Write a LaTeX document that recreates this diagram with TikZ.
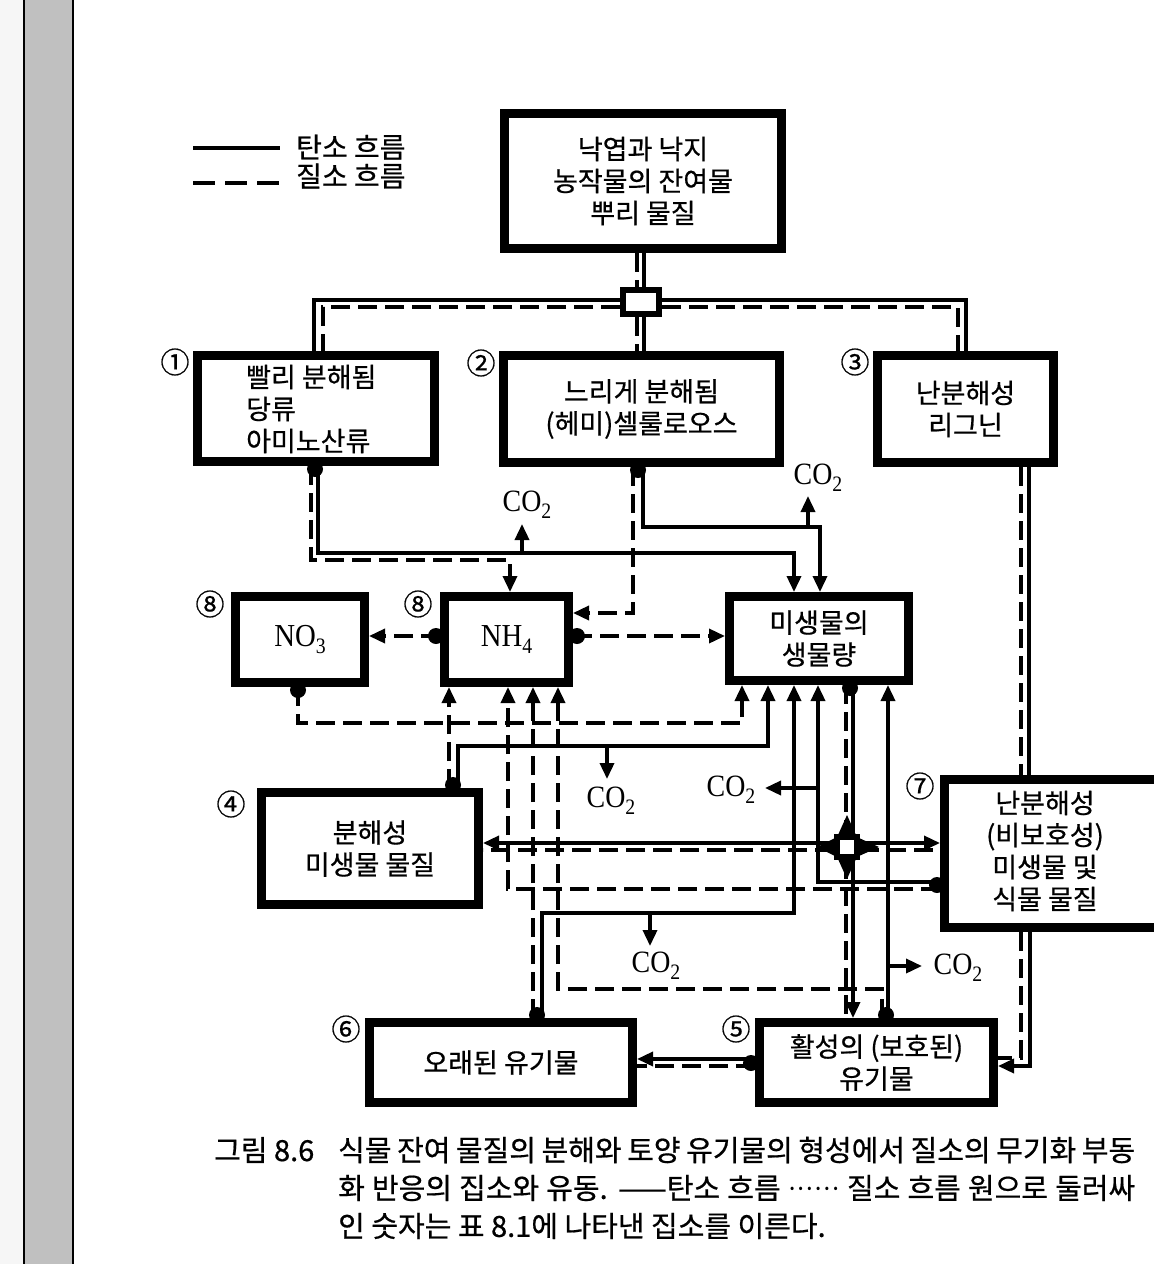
\documentclass[tikz,border=0pt]{standalone}
\usepackage{fontspec}
\setmainfont{Liberation Serif}
\newfontfamily\kr[FakeBold=0.6]{Noto Sans CJK KR}
\newfontfamily\lat[FakeStretch=0.9]{Liberation Serif}
\usetikzlibrary{arrows.meta,calc}
\newcommand{\subn}[1]{\raisebox{-0.22em}{\fontsize{22}{22}\selectfont #1}}
\newcommand{\cotwo}{CO\subn{2}}
\definecolor{stripG}{HTML}{C0C0C0}
\definecolor{stripL}{HTML}{F6F6F6}
\begin{document}
\begin{tikzpicture}[x=1pt,y=-1pt,
 bx/.style={draw, line width=9pt, inner sep=0pt, fill=white, align=center, font=\kr\fontsize{27}{32}\selectfont},
 cline/.style={line width=3.5pt},
 nline/.style={line width=3.5pt, dash pattern=on 19pt off 8pt},
 arrowhd/.style={-{Triangle[length=16pt,width=14pt]}},
 jbox/.style={draw, line width=6pt, fill=white, inner sep=0pt},
 ktxt/.style={font=\kr\fontsize{27}{32}\selectfont, inner sep=0pt, align=center},
 numlbl/.style={font=\kr\fontsize{29}{29}\selectfont, inner sep=0pt},
 latx/.style={font=\lat\fontsize{31}{31}\selectfont, inner sep=0pt},
 captx/.style={font=\kr\fontsize{29}{29}\selectfont, inner sep=0pt, anchor=west},
 legt/.style={font=\kr\fontsize{28}{28}\selectfont, inner sep=0pt, anchor=west}]
\useasboundingbox (0,0) rectangle (1154,1264);
\clip (0,0) rectangle (1154,1264);
\fill[white] (0,0) rectangle (1154,1264);
\fill[stripL] (0,0) rectangle (23,1264);
\fill[stripG] (24,0) rectangle (73,1264);
\draw[line width=1.5pt] (24,0) -- (24,1264);
\draw[line width=1.5pt] (73,0) -- (73,1264);

% legend
\coordinate (lgA1) at (193,148); \coordinate (lgA2) at (280,148);
\coordinate (lgB1) at (193,183); \coordinate (lgB2) at (280,183);
\draw[line width=4pt] (lgA1) -- (lgA2);
\draw[line width=4pt, dash pattern=on 22pt off 10pt] (lgB1) -- (lgB2);
\node[legt] (lgAt) at (296,147) {탄소 흐름};
\node[legt] (lgBt) at (296,176) {질소 흐름};

% boxes
\node[bx, minimum width=277pt, minimum height=135pt] (top) at (643,181) {낙엽과 낙지\\농작물의 잔여물\\뿌리 물질};
\node[bx, minimum width=237pt, minimum height=106pt] (b1) at (316,408.5) {};
\node[ktxt, anchor=west, align=left] (t1) at (246,409) {빨리 분해됨\\당류\\아미노산류};
\node[bx, minimum width=276pt, minimum height=107pt] (b2) at (641.5,409) {느리게 분해됨\\(헤미)셀룰로오스};
\node[bx, minimum width=176pt, minimum height=107pt] (b3) at (965.5,409) {난분해성\\리그닌};
\node[bx, minimum width=129pt, minimum height=86pt] (no3) at (300,639.5) {\lat\fontsize{32}{32}\selectfont NO\subn{3}};
\node[bx, minimum width=124pt, minimum height=86pt] (nh4) at (506.5,639.5) {\lat\fontsize{32}{32}\selectfont NH\subn{4}};
\node[bx, minimum width=179pt, minimum height=84pt] (mic) at (819,638.5) {미생물의\\생물량};
\node[bx, minimum width=217pt, minimum height=112pt] (b4) at (370,848.5) {분해성\\미생물 물질};
\node[bx, minimum width=221pt, minimum height=148pt] (b7) at (1055,853.5) {};
\node[ktxt] (t7) at (1045,851) {난분해성\\(비보호성)\\미생물 및\\식물 물질};
\node[bx, minimum width=263pt, minimum height=80pt] (b6) at (501,1062.5) {오래된 유기물};
\node[bx, minimum width=234pt, minimum height=80pt] (b5) at (876.5,1062.5) {활성의 (보호된)\\유기물};

% number labels
\node[numlbl] (n1) at (175,362) {①};
\node[numlbl] (n2) at (481,363) {②};
\node[numlbl] (n3) at (855,362) {③};
\node[numlbl] (n8a) at (210,604) {⑧};
\node[numlbl] (n8b) at (418,604) {⑧};
\node[numlbl] (n4) at (231,804) {④};
\node[numlbl] (n7) at (920,786) {⑦};
\node[numlbl] (n6) at (346,1029) {⑥};
\node[numlbl] (n5) at (736,1029) {⑤};

% top junction
\node[jbox, minimum width=36pt, minimum height=24pt] (J) at (641,302) {};
\draw[cline] (top.south -| 644,0) -- (J.north -| 644,0);
\draw[nline] (top.south -| 637,0) -- (J.north -| 637,0);
\draw[cline] (J.south -| 644,0) -- (b2.north -| 644,0);
\draw[nline] (J.south -| 637,0) -- (b2.north -| 637,0);
\draw[cline] (J.west |- 0,300) -- (314,300) -- (b1.north -| 314,0);
\draw[nline] (J.west |- 0,307) -- (323,307) -- (b1.north -| 323,0);
\draw[cline] (J.east |- 0,300) -- (966,300) -- (b3.north -| 966,0);
\draw[nline] (J.east |- 0,307) -- (958,307) -- (b3.north -| 958,0);

% box1 outputs
\draw[nline,arrowhd] (b1.south -| 311,0) -- (311,560) -- (510,560) -- (nh4.north -| 510,0);
\draw[cline,arrowhd] (b1.south -| 318,0) -- (318,553) -- (794,553) -- (mic.north -| 794,0);
\fill (315,469) circle[radius=8pt];
\coordinate (c1s) at (522,553); \coordinate (c1e) at (522,524);
\draw[cline,arrowhd] (c1s) -- (c1e);
\node[latx] (co1) at (527,505) {\cotwo};

% box2 outputs
\draw[nline,arrowhd] (b2.south -| 633,0) -- (633,613) -- (nh4.east |- 0,613);
\draw[cline,arrowhd] (b2.south -| 643,0) -- (643,527) -- (820,527) -- (mic.north -| 820,0);
\fill (638,470) circle[radius=8pt];
\coordinate (c2s) at (808,527); \coordinate (c2e) at (808,496);
\draw[cline,arrowhd] (c2s) -- (c2e);
\node[latx] (co2) at (818,478) {\cotwo};

% NH4 outputs
\draw[nline,arrowhd] (nh4.west |- 0,636) -- (no3.east |- 0,636);
\draw[nline,arrowhd] (nh4.east |- 0,636) -- (mic.west |- 0,636);
\fill (436,636) circle[radius=8pt];
\fill (577,636) circle[radius=8pt];

% NO3 to microbes
\draw[nline,arrowhd] (no3.south -| 298,0) -- (298,723) -- (742,723) -- (mic.south -| 742,0);
\fill (298,690) circle[radius=8pt];

% box4 outputs
\draw[nline,arrowhd] (b4.north -| 449,0) -- (nh4.south -| 449,0);
\draw[cline,arrowhd] (b4.north -| 458,0) -- (458,746) -- (768,746) -- (mic.south -| 768,0);
\fill (453,785) circle[radius=8pt];
\coordinate (c3s) at (607,746); \coordinate (c3e) at (607,779);
\draw[cline,arrowhd] (c3s) -- (c3e);
\node[latx] (co3) at (611,801) {\cotwo};

% box7 outputs
\draw[cline,arrowhd] (b7.west |- 0,882) -- (818,882) -- (mic.south -| 818,0);
\draw[nline,arrowhd] (b7.west |- 0,889) -- (508,889) -- (nh4.south -| 508,0);
\fill (937,885) circle[radius=8pt];
\coordinate (c4s) at (818,788); \coordinate (c4e) at (765,788);
\draw[cline,arrowhd] (c4s) -- (c4e);
\node[latx] (co4) at (731,790) {\cotwo};

% box6 outputs
\draw[nline,arrowhd] (b6.north -| 533,0) -- (nh4.south -| 533,0);
\draw[cline,arrowhd] (b6.north -| 542,0) -- (542,913) -- (794,913) -- (mic.south -| 794,0);
\fill (537,1015) circle[radius=8pt];
\coordinate (c5s) at (650,913); \coordinate (c5e) at (650,946);
\draw[cline,arrowhd] (c5s) -- (c5e);
\node[latx] (co5) at (656,966) {\cotwo};

% box5 outputs
\draw[cline,arrowhd] (b5.north -| 888,0) -- (mic.south -| 888,0);
\draw[nline,arrowhd] (b5.north -| 882,0) -- (882,989) -- (558,989) -- (nh4.south -| 558,0);
\fill (886,1015) circle[radius=8pt];
\coordinate (c6s) at (888,966); \coordinate (c6e) at (922,966);
\draw[cline,arrowhd] (c6s) -- (c6e);
\node[latx] (co6) at (958,968) {\cotwo};

% microbes -> junction -> boxes 4, 5, 7
\node[jbox, minimum width=20pt, minimum height=20pt] (JC) at (847,847) {};
\fill (838,835) -- (847,815) -- (856,835) -- cycle;
\fill (838,859) -- (847,879) -- (856,859) -- cycle;
\fill (835,838) -- (817,847) -- (835,856) -- cycle;
\fill (859,838) -- (879,847) -- (859,856) -- cycle;
\draw[nline] (mic.south -| 846,0) -- (JC.north -| 846,0);
\draw[cline] (mic.south -| 853,0) -- (JC.north -| 853,0);
\fill (850,688) circle[radius=8pt];
\draw[nline] (JC.south -| 846,0) -- (b5.north -| 846,0);
\draw[cline,arrowhd] (JC.south -| 853,0) -- (b5.north -| 853,0);
\draw[cline,arrowhd] (JC.west |- 0,843) -- (b4.east |- 0,843);
\draw[nline] (JC.west |- 0,850) -- (b4.east |- 0,850);
\draw[cline,arrowhd] (JC.east |- 0,843) -- (b7.west |- 0,843);
\draw[nline] (JC.east |- 0,850) -- (b7.west |- 0,850);

% box3 -> box7
\draw[nline] (b3.south -| 1021,0) -- (b7.north -| 1021,0);
\draw[cline] (b3.south -| 1029,0) -- (b7.north -| 1029,0);

% box7 -> box5
\draw[nline] (b7.south -| 1021,0) -- (1021,1058) -- (b5.east |- 0,1058);
\draw[cline,arrowhd] (b7.south -| 1030,0) -- (1030,1066) -- (b5.east |- 0,1066);

% box5 -> box6
\draw[cline,arrowhd] (b5.west |- 0,1059) -- (b6.east |- 0,1059);
\draw[nline] (b5.west |- 0,1066) -- (b6.east |- 0,1066);
\fill (751,1063) circle[radius=8pt];

% caption
\node[captx] (capA) at (214,1150) {그림 8.6};
\node[captx] (capL1) at (338,1150) {\makebox[797pt][s]{식물 잔여 물질의 분해와 토양 유기물의 형성에서 질소의 무기화 부동}};
\node[captx] (capL2) at (338,1188) {\makebox[797pt][s]{화 반응의 집소와 유동. ——탄소 흐름 {\lat ······} 질소 흐름 원으로 둘러싸}};
\node[captx] (capL3) at (338,1226) {인 숫자는 표 8.1에 나타낸 집소를 이른다.};
\end{tikzpicture}
\end{document}
